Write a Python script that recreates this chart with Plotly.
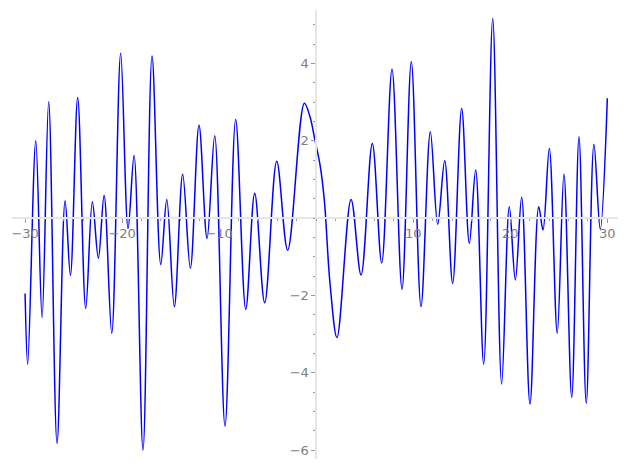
import plotly.graph_objects as go

# curve samples (x, y)
x_vals = [-30.0, -29.73, -28.9, -28.25, -27.57, -26.71, -25.88, -25.33, -24.58, -23.75,
          -23.07, -22.45, -21.86, -21.07, -20.15, -19.39, -18.77, -17.85, -16.92, -16.02,
          -15.40, -14.62, -13.76, -12.97, -12.08, -11.25, -10.46, -9.40, -8.30, -7.26,
          -6.34, -5.31, -4.07, -2.94, -1.22, -0.64, -0.12, 0.39, 0.84, 1.42,
          2.14, 3.59, 4.62, 5.78, 6.75, 7.81, 8.84, 9.80, 10.80, 11.76,
          12.52, 13.24, 14.06, 14.99, 15.78, 16.43, 17.26, 18.19, 19.11, 19.90,
          20.52, 21.17, 22.03, 22.93, 23.37, 24.02, 24.84, 25.53, 26.33, 27.08,
          27.83, 28.62, 29.27, 30.0]
y_vals = [-1.95, -3.78, 2.0, -2.57, 3.01, -5.83, 0.45, -1.48, 3.12, -2.34,
          0.42, -1.04, 0.59, -2.98, 4.26, -0.27, 1.62, -6.0, 4.19, -1.2,
          0.48, -2.29, 1.13, -1.30, 2.40, -0.53, 2.13, -5.38, 2.55, -2.36,
          0.64, -2.19, 1.47, -0.83, 2.97, 2.62, 2.0, 1.38, 0.45, -1.68,
          -3.09, 0.48, -1.47, 1.93, -1.16, 3.85, -1.84, 4.04, -2.29, 2.23,
          -0.16, 1.48, -1.69, 2.83, -0.65, 1.24, -3.78, 5.16, -4.29, 0.29,
          -1.60, 0.54, -4.81, 0.29, -0.31, 1.80, -2.98, 1.14, -4.64, 2.10,
          -4.79, 1.91, -0.29, 3.10]

x_ticks = [-30, -20, -10, 10, 20, 30]
y_ticks = [-6, -4, -2, 2, 4]

x_range = [-31.35, 31.1]
y_range = [-6.23, 5.38]

fig = go.Figure()
fig.add_trace(go.Scatter(
    x=x_vals, y=y_vals, mode="lines",
    line=dict(color="#0000ff", width=1.5, shape="spline", smoothing=1.0),
    hoverinfo="skip",
))

axis_common = dict(
    showgrid=False, zeroline=False, showline=True,
    linecolor="#e6e6e6", linewidth=1.5,
    ticks="outside", ticklen=4, tickwidth=1, tickcolor="#999999",
    tickfont=dict(family="DejaVu Sans", size=13, color="#808080"),
    anchor="free",
)

# page body has an 8px default margin, so the figure is sized to fit inside it
fig.update_layout(
    width=619, height=461,
    margin=dict(l=4, r=9, t=2, b=10),
    paper_bgcolor="white", plot_bgcolor="white",
    showlegend=False,
    xaxis=dict(axis_common, range=x_range, tickvals=x_ticks,
               position=(0 - y_range[0]) / (y_range[1] - y_range[0]),
               minor=dict(ticks="outside", ticklen=2.5, dtick=2, tick0=0, tickcolor="#999999")),
    yaxis=dict(axis_common, range=y_range, tickvals=y_ticks,
               position=(0 - x_range[0]) / (x_range[1] - x_range[0]),
               minor=dict(ticks="outside", ticklen=2.5, dtick=0.5, tick0=0, tickcolor="#999999")),
)

fig.write_html("out.html")
